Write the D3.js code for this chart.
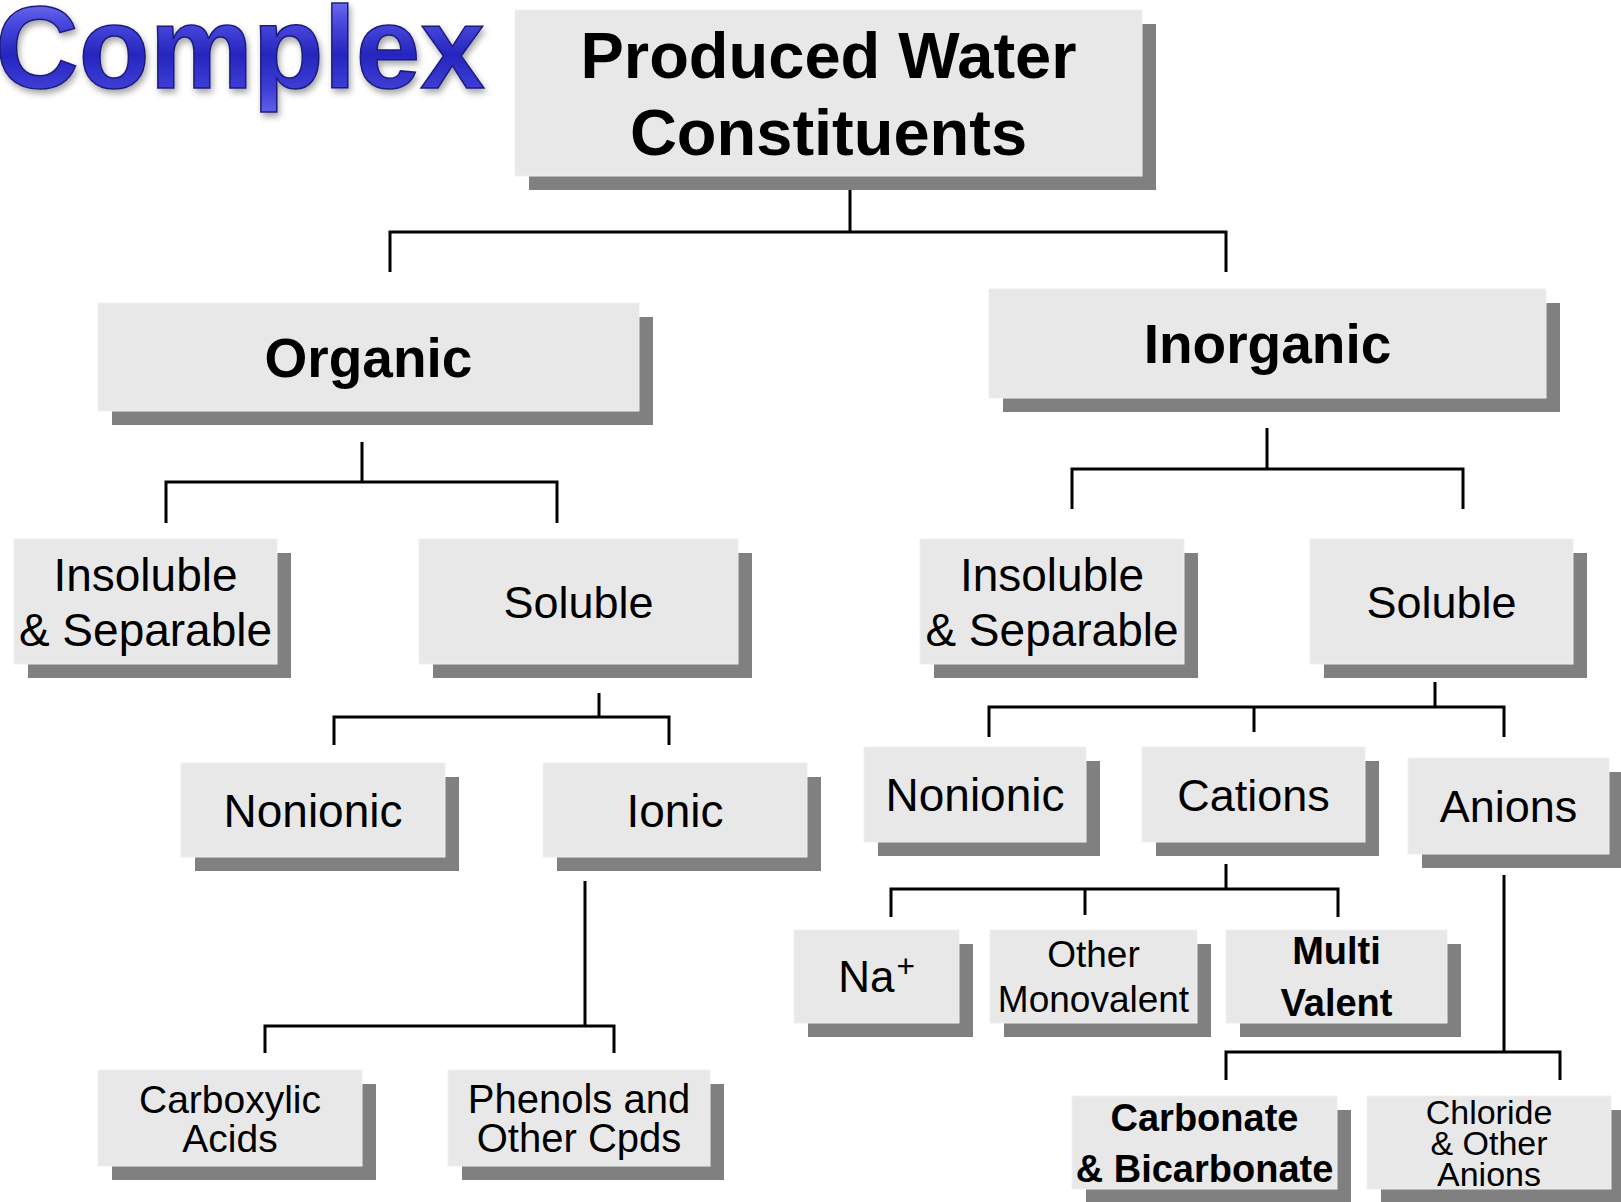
<!DOCTYPE html>
<html lang="en">
<head>
<meta charset="UTF-8">
<title>Produced Water Constituents</title>
<script src="https://cdn.jsdelivr.net/npm/d3@7"></script>
<style>
  html, body { margin: 0; padding: 0; background: #fff; }
  svg { display: block; }
</style>
</head>
<body>
<svg id="chart" width="1621" height="1202"></svg>
<script>
// --- data: the classification tree ---
const nodeIds = ["root", "organic", "inorganic",
  "orgInsoluble", "orgSoluble", "inInsoluble", "inSoluble",
  "orgNonionic", "orgIonic", "inNonionic", "cations", "anions",
  "sodium", "otherMono", "multiValent",
  "carboxylic", "phenols", "carbonate", "chloride"];
const nodeParents = [null, "root", "root",
  "organic", "organic", "inorganic", "inorganic",
  "orgSoluble", "orgSoluble", "inSoluble", "inSoluble", "inSoluble",
  "cations", "cations", "cations",
  "orgIonic", "orgIonic", "anions", "anions"];
const nodeLabels = [["Produced Water", "Constituents"], ["Organic"], ["Inorganic"],
  ["Insoluble", "& Separable"], ["Soluble"], ["Insoluble", "& Separable"], ["Soluble"],
  ["Nonionic"], ["Ionic"], ["Nonionic"], ["Cations"], ["Anions"],
  ["Na+"], ["Other", "Monovalent"], ["Multi", "Valent"],
  ["Carboxylic", "Acids"], ["Phenols and", "Other Cpds"],
  ["Carbonate", "& Bicarbonate"], ["Chloride", "& Other", "Anions"]];
const headline = "Complex";

// --- layout: box rectangles [x, y, w, h] ---
const boxes = {
  root:        [515, 10, 627, 166],
  organic:     [98, 303, 541, 108],
  inorganic:   [989, 289, 557, 109],
  orgInsoluble:[14, 539, 263, 125],
  orgSoluble:  [419, 539, 319, 125],
  inInsoluble: [920, 539, 264, 125],
  inSoluble:   [1310, 539, 263, 125],
  orgNonionic: [181, 763, 264, 94],
  orgIonic:    [543, 763, 264, 94],
  inNonionic:  [864, 747, 222, 95],
  cations:     [1142, 747, 223, 95],
  anions:      [1408, 758, 201, 96],
  sodium:      [794, 930, 165, 93],
  otherMono:   [990, 930, 207, 93],
  multiValent: [1226, 930, 221, 93],
  carboxylic:  [98, 1070, 264, 96],
  phenols:     [448, 1070, 262, 96],
  carbonate:   [1072, 1096, 265, 93],
  chloride:    [1367, 1096, 244, 93]
};

// text style: font size, weight, line height
const textStyle = {
  root:        [65, "bold", 77],
  organic:     [55, "bold", 0],
  inorganic:   [55, "bold", 0],
  orgInsoluble:[46, "normal", 55],
  orgSoluble:  [45, "normal", 0],
  inInsoluble: [46, "normal", 55],
  inSoluble:   [45, "normal", 0],
  orgNonionic: [46, "normal", 0],
  orgIonic:    [46, "normal", 0],
  inNonionic:  [46, "normal", 0],
  cations:     [45, "normal", 0],
  anions:      [45, "normal", 0],
  sodium:      [44, "normal", 0],
  otherMono:   [37, "normal", 45],
  multiValent: [38, "bold", 52],
  carboxylic:  [39, "normal", 39],
  phenols:     [40, "normal", 39],
  carbonate:   [38, "bold", 51],
  chloride:    [34, "normal", 31]
};

// connector brackets, keyed by parent: stem x, stem top, bus y, drops [x, bottom] per child
const brackets = {
  root:       { stemX: 850, stemTop: 189, busY: 232, drops: [[390, 272], [1226, 272]] },
  organic:    { stemX: 362, stemTop: 442, busY: 482, drops: [[166, 523], [557, 523]] },
  inorganic:  { stemX: 1267, stemTop: 428, busY: 469, drops: [[1072, 509], [1463, 509]] },
  orgSoluble: { stemX: 599, stemTop: 693, busY: 717, drops: [[334, 745], [669, 745]] },
  inSoluble:  { stemX: 1435, stemTop: 682, busY: 707, drops: [[989, 737], [1254, 732], [1504, 737]] },
  orgIonic:   { stemX: 585, stemTop: 881, busY: 1026, drops: [[265, 1053], [614, 1053]] },
  cations:    { stemX: 1226, stemTop: 864, busY: 889, drops: [[891, 917], [1085, 915], [1338, 917]] },
  anions:     { stemX: 1504, stemTop: 875, busY: 1052, drops: [[1226, 1080], [1560, 1080]] }
};

const SHADOW = 14;
const svg = d3.select("#chart");

const table = nodeIds.map((id, i) => ({ id: id, parent: nodeParents[i], lines: nodeLabels[i] }));
const root = d3.stratify().id(d => d.id).parentId(d => d.parent)(table);

// defs for the headline
const defs = svg.append("defs");
const grad = defs.append("linearGradient").attr("id", "blueGrad")
  .attr("x1", 0).attr("y1", 0).attr("x2", 0).attr("y2", 1);
grad.append("stop").attr("offset", "0%").attr("stop-color", "#8a8af5");
grad.append("stop").attr("offset", "30%").attr("stop-color", "#4a4ae0");
grad.append("stop").attr("offset", "55%").attr("stop-color", "#2626bf");
grad.append("stop").attr("offset", "80%").attr("stop-color", "#3c3cd6");
grad.append("stop").attr("offset", "100%").attr("stop-color", "#6060ea");
const shadowF = defs.append("filter").attr("id", "soft").attr("x", "-10%").attr("y", "-10%")
  .attr("width", "130%").attr("height", "140%");
shadowF.append("feDropShadow").attr("dx", 2).attr("dy", 4).attr("stdDeviation", 3)
  .attr("flood-color", "#000").attr("flood-opacity", 0.35);

svg.append("text")
  .attr("x", -5).attr("y", 88)
  .attr("font-family", "Liberation Sans, Arial, sans-serif")
  .attr("font-weight", "bold")
  .attr("font-size", 116)
  .attr("fill", "url(#blueGrad)")
  .attr("stroke", "#1c1c78").attr("stroke-width", 1.5)
  .attr("filter", "url(#soft)")
  .text(headline);

// connectors
const lineG = svg.append("g").attr("fill", "none").attr("stroke", "#000")
  .attr("stroke-width", 3).attr("stroke-linejoin", "miter");

root.each(node => {
  if (!node.children) return;
  const b = brackets[node.id];
  const xs = b.drops.map(d => d[0]).concat([b.stemX]);
  const path = d3.path();
  path.moveTo(b.stemX, b.stemTop);
  path.lineTo(b.stemX, b.busY);
  path.moveTo(d3.min(xs) - 1.5, b.busY);
  path.lineTo(d3.max(xs) + 1.5, b.busY);
  node.children.forEach((c, i) => {
    const [x, bottom] = b.drops[i];
    path.moveTo(x, b.busY);
    path.lineTo(x, bottom);
  });
  lineG.append("path").attr("d", path.toString());
});

// boxes
const nodeG = svg.append("g").selectAll("g.node")
  .data(root.descendants())
  .join("g").attr("class", "node");

nodeG.append("rect")
  .attr("x", d => boxes[d.id][0] + SHADOW)
  .attr("y", d => boxes[d.id][1] + SHADOW)
  .attr("width", d => boxes[d.id][2])
  .attr("height", d => boxes[d.id][3])
  .attr("fill", "#808080");

nodeG.append("rect")
  .attr("x", d => boxes[d.id][0])
  .attr("y", d => boxes[d.id][1])
  .attr("width", d => boxes[d.id][2])
  .attr("height", d => boxes[d.id][3])
  .attr("fill", "#e8e8e8")
  .attr("stroke", "#efefef").attr("stroke-width", 1);

nodeG.each(function(d) {
  const [x, y, w, h] = boxes[d.id];
  const [fs, fw, lh] = textStyle[d.id];
  const lines = d.data.lines;
  const cx = x + w / 2;
  const first = y + h / 2 + 0.36 * fs - (lines.length - 1) * lh / 2;
  const t = d3.select(this).append("text")
    .attr("text-anchor", "middle")
    .attr("font-family", "Liberation Sans, Arial, sans-serif")
    .attr("font-size", fs)
    .attr("font-weight", fw)
    .attr("fill", "#000");
  lines.forEach((ln, i) => {
    const ts = t.append("tspan").attr("x", cx).attr("y", first + i * lh);
    if (ln.endsWith("+")) {
      ts.text(ln.slice(0, -1));
      ts.append("tspan").attr("font-size", fs * 0.72).attr("dx", 2).attr("dy", -fs * 0.36).text("+");
    } else {
      ts.text(ln);
    }
  });
});
</script>
</body>
</html>
